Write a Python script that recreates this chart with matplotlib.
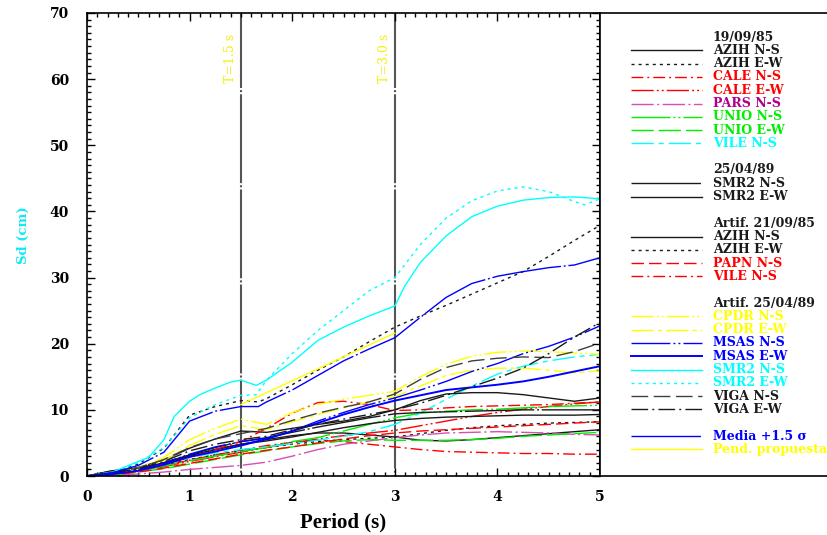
import matplotlib
matplotlib.use("Agg")
import matplotlib.pyplot as plt
from matplotlib.ticker import MultipleLocator

plt.rcParams['lines.scale_dashes'] = False
plt.rcParams['font.family'] = ['DejaVu Serif']

# ---------------- data ----------------
T = [0, 0.25, 0.5, 0.75, 1.0, 1.25, 1.5, 1.75, 2.0, 2.25, 2.5, 2.75,
     3.0, 3.25, 3.5, 3.75, 4.0, 4.25, 4.5, 4.75, 5.0]

# 19/09/85
azih_ns_85 = [0, 0.8, 1.1, 2.0, 3.1, 4.0, 4.8, 5.5, 6.1, 6.5, 6.5, 6.2, 5.9, 5.4, 5.3, 5.5, 5.8, 6.1, 6.4, 6.7, 7.0]
azih_ew_85 = [0, 0.5, 0.9, 1.6, 2.5, 3.2, 3.8, 4.3, 4.8, 5.2, 5.5, 5.7, 5.9, 6.4, 6.9, 7.3, 7.6, 7.8, 8.0, 8.1, 8.2]
cale_ns_85 = [0, 0.3, 0.8, 1.5, 2.4, 3.2, 3.9, 4.6, 5.1, 5.4, 5.2, 4.8, 4.4, 4.0, 3.7, 3.6, 3.5, 3.4, 3.4, 3.3, 3.3]
cale_ew_85 = [0, 0.3, 0.8, 1.4, 2.2, 2.9, 3.6, 4.3, 5.0, 5.6, 6.1, 6.5, 6.9, 7.6, 8.3, 9.0, 9.6, 10.1, 10.5, 10.9, 11.2]
pars_ns_85 = [0, 0.1, 0.3, 0.6, 1.0, 1.3, 1.6, 2.1, 3.0, 4.0, 4.8, 5.3, 5.8, 6.2, 6.5, 6.6, 6.7, 6.6, 6.5, 6.3, 6.2]
unio_ns_85 = [0, 0.3, 0.8, 1.5, 2.3, 3.0, 3.7, 4.3, 5.2, 5.8, 6.8, 7.8, 8.8, 9.5, 9.8, 10.0, 10.1, 10.3, 10.5, 10.6, 10.7]
unio_ew_85 = [0, 0.2, 0.6, 1.1, 1.8, 2.5, 3.2, 3.8, 4.4, 4.9, 5.3, 5.5, 5.4, 5.4, 5.4, 5.5, 5.7, 6.0, 6.2, 6.4, 6.6]
vile_ns_85 = [0, 0.4, 1.0, 1.8, 2.8, 3.5, 4.0, 4.4, 4.9, 5.4, 6.0, 6.7, 7.8, 9.5, 11.6, 13.6, 15.4, 16.6, 17.4, 18.0, 18.4]
# 25/04/89
smr2_ns_89 = [0, 0.8, 1.0, 2.0, 3.2, 4.3, 5.2, 5.8, 6.6, 7.4, 8.1, 8.8, 9.4, 9.6, 9.7, 9.8, 9.9, 10.0, 10.0, 10.0, 10.0]
smr2_ew_89 = [0, 0.7, 1.0, 1.9, 3.0, 4.0, 4.8, 5.3, 5.9, 6.6, 7.3, 7.9, 8.4, 8.7, 8.9, 9.0, 9.1, 9.2, 9.2, 9.2, 9.3]
# Artif. 21/09/85
azih_ns_a85 = [0, 0.6, 1.3, 2.4, 4.2, 5.6, 6.8, 6.6, 7.2, 7.8, 8.3, 9.0, 10.0, 11.4, 12.4, 12.6, 12.6, 12.3, 11.8, 11.3, 11.8]
T_azih_ew_a85 = [0, 0.25, 0.5, 0.75, 1.0, 1.25, 1.5, 1.67, 1.75, 2.0, 2.25, 2.5, 2.75, 3.0,
                 3.25, 3.5, 3.75, 4.0, 4.25, 4.5, 4.75, 5.0]
azih_ew_a85 = [0, 0.6, 1.8, 4.2, 9.2, 10.5, 11.4, 11.2, 11.7, 13.8, 16.0, 18.0, 20.3, 22.5,
               24.2, 25.8, 27.5, 29.2, 30.9, 33.2, 35.6, 37.9]
papn_ns_a85 = [0, 0.2, 0.6, 1.2, 1.9, 2.6, 3.3, 3.9, 4.4, 5.0, 5.6, 6.1, 6.5, 6.8, 7.0, 7.2, 7.4, 7.6, 7.8, 8.0, 8.2]
vile_ns_a85 = [0, 0.3, 0.9, 1.8, 2.8, 4.0, 5.2, 7.2, 9.5, 11.1, 11.3, 10.8, 9.9, 10.0, 10.3, 10.5, 10.6, 10.7, 10.8, 11.0, 11.2]
# Artif. 25/04/89
cpdr_ns_a89 = [0, 0.4, 1.2, 2.8, 5.5, 7.2, 8.6, 7.8, 9.6, 10.8, 11.6, 12.2, 12.8, 15.0, 16.9, 18.1, 18.7, 18.9, 18.8, 18.6, 18.4]
cpdr_ew_a89 = [0, 0.3, 1.0, 2.3, 4.6, 6.3, 7.6, 7.0, 8.2, 9.3, 10.3, 11.2, 12.0, 13.6, 15.2, 16.0, 16.3, 16.3, 16.0, 15.6, 15.9]
msas_ns_a89 = [0, 0.4, 1.0, 2.0, 3.3, 4.4, 5.2, 5.7, 6.8, 8.3, 9.6, 10.8, 11.8, 13.0, 14.3, 15.8, 17.0, 18.5, 19.6, 21.0, 22.7]
msas_ew_a89 = [0, 0.3, 0.8, 1.7, 2.9, 3.7, 4.6, 5.6, 6.8, 8.0, 9.3, 10.4, 11.4, 12.2, 13.0, 13.4, 13.8, 14.3, 15.0, 15.8, 16.6]
T_smr2_ns_a89 = [0, 0.25, 0.5, 0.6, 0.75, 0.85, 1.0, 1.1, 1.25, 1.4, 1.5, 1.65, 1.75, 2.0, 2.25,
                 2.5, 2.75, 3.0, 3.1, 3.25, 3.5, 3.75, 4.0, 4.25, 4.5, 4.75, 5.0]
smr2_ns_a89 = [0, 0.6, 2.2, 2.8, 5.5, 9.0, 11.3, 12.3, 13.3, 14.2, 14.5, 13.7, 14.5, 17.2, 20.5,
               22.5, 24.2, 25.7, 28.8, 32.3, 36.3, 39.2, 40.8, 41.7, 42.1, 42.2, 41.9]
T_smr2_ew_a89 = [0, 0.25, 0.5, 0.75, 0.9, 1.0, 1.25, 1.5, 1.65, 1.75, 2.0, 2.25, 2.5, 2.75, 3.0,
                 3.25, 3.5, 3.75, 4.0, 4.25, 4.5, 4.75, 4.85, 5.0]
smr2_ew_a89 = [0, 0.6, 2.0, 4.3, 7.0, 8.8, 10.8, 12.2, 12.3, 14.5, 18.5, 22.0, 25.0, 28.0, 30.0,
               35.0, 39.0, 41.6, 43.1, 43.7, 43.0, 41.5, 41.0, 41.9]
viga_ns_a89 = [0, 0.5, 1.2, 2.5, 4.3, 5.6, 6.4, 7.2, 8.4, 9.5, 10.4, 11.2, 12.4, 14.6, 16.4, 17.4, 17.8, 18.0, 17.9, 18.8, 20.1]
viga_ew_a89 = [0, 0.5, 1.1, 2.2, 3.8, 4.8, 5.5, 6.0, 7.0, 7.8, 8.6, 9.3, 10.0, 11.0, 12.2, 13.5, 14.8, 16.3, 18.5, 21.0, 23.2]
# Media + 1.5 sigma
T_media = [0, 0.25, 0.5, 0.75, 1.0, 1.25, 1.5, 1.67, 1.75, 2.0, 2.25, 2.5, 2.75, 3.0,
           3.25, 3.5, 3.75, 4.0, 4.25, 4.5, 4.75, 5.0]
media = [0, 0.5, 1.6, 3.6, 8.3, 9.8, 10.5, 10.5, 11.2, 13.0, 15.2, 17.4, 19.2, 20.9,
         24.0, 27.0, 29.1, 30.2, 30.9, 31.5, 31.9, 33.0]
# Pendiente propuesta
T_pend = [1.5, 3.0]
pend = [10.8, 21.6]

vlines_T = [1.5, 3.0]
vlines_lbl = ["T=1.5 s", "T=3.0 s"]

# ---------------- styles ----------------
BLK = '#1a1a1a'
RED = '#ff0000'
GRN = '#00ee00'
CYA = '#00ffff'
YEL = '#ffff00'
BLU = '#0000ff'
PNK = '#d64fb5'
PUR = '#b0008a'

DOT = (0, (2.2, 2.9))
DASHDOT = (0, (8.5, 2.9, 1.4, 2.9))
LDASH_2DOT = (0, (16, 2.2, 1.4, 2.2, 1.4, 2.2))
LDASHDOT = (0, (16, 2.5, 1.5, 2.5))
VLDASH_2DOT = (0, (28, 2.2, 1.4, 2.2, 1.4, 2.2))
LDASH = (0, (16, 3.6))
LDASH_SDASH = (0, (16, 3.6, 3.6, 3.6))
SOLIDDOT = (0, (50, 2, 1.4, 2))
MDASH = (0, (9, 3.6))
CP_EW = (0, (16, 3, 3, 3))
VIGA_NS = (0, (12, 4))
VIGA_EW = (0, (12, 3, 1.4, 3))

# (label, text colour, line colour, ls, lw, x, y) ; None = blank row
entries = [
    ("19/09/85", BLK, None, None, None, None, None),
    ("AZIH N-S", BLK, BLK, '-', 1.0, T, azih_ns_85),
    ("AZIH E-W", BLK, BLK, DOT, 1.0, T, azih_ew_85),
    ("CALE N-S", RED, RED, DASHDOT, 1.0, T, cale_ns_85),
    ("CALE E-W", RED, RED, LDASH_2DOT, 1.0, T, cale_ew_85),
    ("PARS N-S", PUR, PNK, LDASHDOT, 1.0, T, pars_ns_85),
    ("UNIO N-S", GRN, GRN, VLDASH_2DOT, 1.0, T, unio_ns_85),
    ("UNIO E-W", GRN, GRN, LDASH, 1.0, T, unio_ew_85),
    ("VILE N-S", CYA, CYA, LDASH_SDASH, 1.0, T, vile_ns_85),
    None,
    ("25/04/89", BLK, None, None, None, None, None),
    ("SMR2 N-S", BLK, BLK, SOLIDDOT, 1.0, T, smr2_ns_89),
    ("SMR2 E-W", BLK, BLK, '-', 1.0, T, smr2_ew_89),
    None,
    ("Artif. 21/09/85", BLK, None, None, None, None, None),
    ("AZIH N-S", BLK, BLK, '-', 1.0, T, azih_ns_a85),
    ("AZIH E-W", BLK, BLK, DOT, 1.0, T_azih_ew_a85, azih_ew_a85),
    ("PAPN N-S", RED, RED, MDASH, 1.0, T, papn_ns_a85),
    ("VILE N-S", RED, RED, DASHDOT, 1.0, T, vile_ns_a85),
    None,
    ("Artif. 25/04/89", BLK, None, None, None, None, None),
    ("CPDR N-S", YEL, YEL, LDASH_2DOT, 1.0, T, cpdr_ns_a89),
    ("CPDR E-W", YEL, YEL, CP_EW, 1.0, T, cpdr_ew_a89),
    ("MSAS N-S", BLU, BLU, VLDASH_2DOT, 1.0, T, msas_ns_a89),
    ("MSAS E-W", BLU, BLU, '-', 1.4, T, msas_ew_a89),
    ("SMR2 N-S", CYA, CYA, '-', 1.0, T_smr2_ns_a89, smr2_ns_a89),
    ("SMR2 E-W", CYA, CYA, DOT, 1.0, T_smr2_ew_a89, smr2_ew_a89),
    ("VIGA N-S", BLK, '#404040', VIGA_NS, 1.0, T, viga_ns_a89),
    ("VIGA E-W", BLK, BLK, VIGA_EW, 1.0, T, viga_ew_a89),
    None,
    ("Media +1.5 σ", BLU, BLU, SOLIDDOT, 1.0, T_media, media),
    ("Pend. propuesta", YEL, YEL, '-', 1.0, T_pend, pend),
]

W, H = 827, 535
fig = plt.figure(figsize=(W / 100, H / 100), dpi=100)
L, R, B, TP = 87, 600, 476, 13
ax = fig.add_axes([L / W, 1 - B / H, (R - L) / W, (B - TP) / H])
lg = fig.add_axes([R / W, 1 - B / H, (W - R + 5) / W, (B - TP) / H])

ax.set_xlim(0, 5)
ax.set_ylim(0, 70)

# vertical reference lines
for tv, lbl in zip(vlines_T, vlines_lbl):
    ax.plot([tv, tv], [70, 0], color='#555555', lw=1.5,
            ls=(10, (64, 1.5, 1.5, 1.5)), zorder=1)
    ax.text(tv - 0.04, 66.8, lbl, rotation=90, ha='right', va='top',
            color='#f5f000', fontsize=9, family='DejaVu Serif')

for e in entries:
    if e is None or e[2] is None:
        continue
    lbl, tc, lc, ls, lw, xs, ys = e
    ax.plot(xs, ys, color=lc, ls=ls, lw=lw, zorder=2)

# axes styling
for s in ax.spines.values():
    s.set_color('black')
    s.set_linewidth(1.2)
ax.xaxis.set_major_locator(MultipleLocator(1))
ax.xaxis.set_minor_locator(MultipleLocator(0.1))
ax.yaxis.set_major_locator(MultipleLocator(10))
ax.yaxis.set_minor_locator(MultipleLocator(1))
ax.tick_params(which='both', direction='in', top=True, right=True, color='black', width=1)
ax.tick_params(which='major', length=6)
ax.tick_params(which='minor', length=3)
ax.tick_params(axis='y', which='major', pad=13)
ax.tick_params(axis='x', which='major', pad=10)
for t in ax.get_xticklabels() + ax.get_yticklabels():
    t.set_fontweight('bold')
    t.set_fontsize(10)

fig.text(343 / W, 1 - 522 / H, "Period (s)", ha='center', va='center',
         fontsize=15, fontweight='bold', family='Liberation Serif')
fig.text(23 / W, 1 - 235 / H, "Sd (cm)", ha='center', va='center', rotation=90,
         fontsize=9.5, fontweight='bold', color='#10e8f8')

# legend panel
lg.set_xlim(0, W - R + 5)
lg.set_ylim(B - TP, 0)
lg.set_xticks([])
lg.set_yticks([])
for k, s in lg.spines.items():
    s.set_color('black')
    s.set_linewidth(1.2)
lg.spines['right'].set_visible(False)

y0, dy = 24, 13.3
for k, e in enumerate(entries):
    if e is None:
        continue
    y = y0 + k * dy
    lbl, tc, lc, ls, lw, xs, ys = e
    lg.text(113, y, lbl, color=tc, fontsize=9, fontweight='bold', va='center', ha='left')
    if lc is not None:
        lg.plot([31, 102], [y, y], color=lc, ls=ls, lw=lw)

fig.savefig("out.png", dpi=100)
